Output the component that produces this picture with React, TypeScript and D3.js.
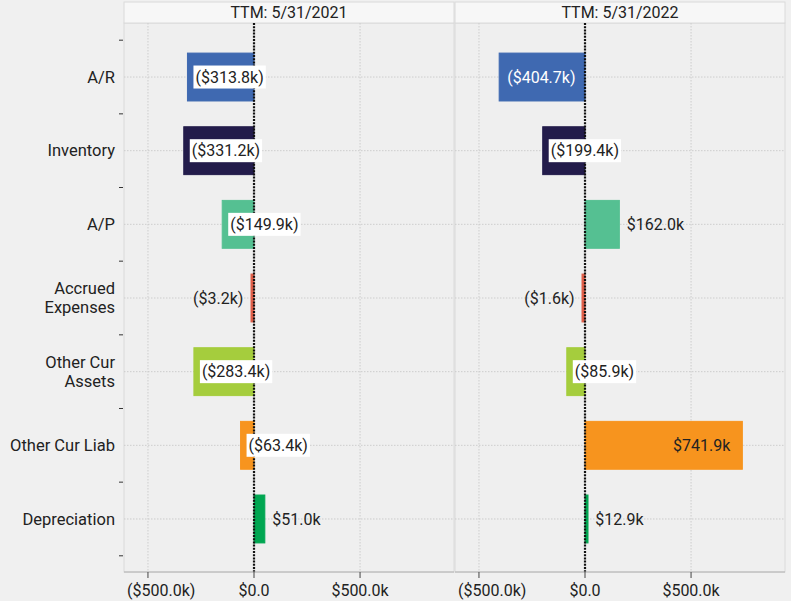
import React from "react";
import * as d3 from "d3";

// Working-capital change components, in $ thousands
const categories = [
  "A/R",
  "Inventory",
  "A/P",
  "Accrued Expenses",
  "Other Cur Assets",
  "Other Cur Liab",
  "Depreciation",
];
const periods = ["TTM: 5/31/2021", "TTM: 5/31/2022"];
const values2021 = [-313.8, -331.2, -149.9, -3.2, -283.4, -63.4, 51.0];
const values2022 = [-404.7, -199.4, 162.0, -1.6, -85.9, 741.9, 12.9];
const barColors = ["#3f69b1", "#231c4b", "#55c092", "#e0604a", "#a5cd3d", "#f7941e", "#00a651"];
const xTicks = [-500, 0, 500];

const W = 791;
const H = 601;
const FONT = "Roboto, 'Noto Sans', sans-serif";
const panelLefts = [124, 455];
const panelW = 330;
const stripTop = 2;
const plotTop = 23;
const plotBottom = 572;
const bandTop = 40.2;
const bandBottom = 555.8;
const minBarPx = 3; // keep tiny values visible beside the zero line

const fmtMoney = (v: number) => {
  if (v === 0) return "$0.0";
  const s = `$${Math.abs(v).toFixed(1)}k`;
  return v < 0 ? `(${s})` : s;
};

let measureCtx: CanvasRenderingContext2D | null = null;
const textWidth = (s: string, size = 16) => {
  if (!measureCtx) measureCtx = document.createElement("canvas").getContext("2d");
  if (!measureCtx) return s.length * size * 0.5;
  measureCtx.font = `${size}px Roboto`;
  return measureCtx.measureText(s).width;
};

const wrapLabel = (s: string, maxW: number) => {
  const words = s.split(" ");
  const lines: string[] = [];
  let cur = "";
  for (const w of words) {
    const trial = cur ? cur + " " + w : w;
    if (cur && textWidth(trial, 16.5) > maxW) {
      lines.push(cur);
      cur = w;
    } else cur = trial;
  }
  if (cur) lines.push(cur);
  return lines;
};

const isDark = (c: string) => {
  const rgb = d3.rgb(c);
  return 0.299 * rgb.r + 0.587 * rgb.g + 0.114 * rgb.b < 110;
};

export default function App() {
  const y = d3.scaleBand<string>().domain(categories).range([bandTop, bandBottom]).paddingInner(0.35).paddingOuter(0.175);
  const yCenter = (c: string) => (y(c) as number) + y.bandwidth() / 2;
  const step = (bandBottom - bandTop) / categories.length;
  const series = [values2021, values2022];

  return (
    <div style={{ position: "absolute", left: 0, top: 0 }}>
      <svg width={W} height={H} style={{ display: "block", fontFamily: FONT }}>
        <rect x={0} y={0} width={W} height={H} fill="#f0f0f0" />

        {/* category axis */}
        {d3.range(categories.length + 1).map((i) => (
          <line key={"yt" + i} x1={119} x2={123} y1={bandTop + i * step} y2={bandTop + i * step} stroke="#333" strokeWidth={1} />
        ))}
        {categories.map((c) => {
          const lines = wrapLabel(c, 112);
          const lh = 19;
          const y0 = yCenter(c) - ((lines.length - 1) * lh) / 2;
          return (
            <text key={"yl" + c} x={115} textAnchor="end" fontSize={16.5} fill="#222">
              {lines.map((l, i) => (
                <tspan key={i} x={115} y={y0 + i * lh} dy="0.35em">
                  {l}
                </tspan>
              ))}
            </text>
          );
        })}

        {periods.map((p, pi) => {
          const left = panelLefts[pi];
          const x = d3.scaleLinear().domain([-613, 943]).range([left, left + panelW]);
          const vals = series[pi];
          const x0 = x(0);
          return (
            <g key={p}>
              {/* panel and strip */}
              <rect x={left} y={plotTop} width={panelW} height={plotBottom - plotTop} fill="#efefef" stroke="#dadada" strokeWidth={1} />
              <rect x={left} y={stripTop} width={panelW} height={plotTop - stripTop} fill="#f7f7f7" stroke="#dadada" strokeWidth={1} />
              <text x={left + panelW / 2} y={(stripTop + plotTop) / 2} dy="0.36em" textAnchor="middle" fontSize={16} fill="#222">
                {p}
              </text>

              {/* grid */}
              {categories.map((c) => (
                <line key={"hg" + c} x1={left} x2={left + panelW} y1={yCenter(c)} y2={yCenter(c)} stroke="#cdcdcd" strokeWidth={1} strokeDasharray="1.5 1.5" />
              ))}
              {xTicks.map((t) => (
                <line key={"vg" + t} x1={x(t)} x2={x(t)} y1={plotTop} y2={plotBottom} stroke="#cdcdcd" strokeWidth={1} strokeDasharray="1.5 1.5" />
              ))}

              {/* bars */}
              {categories.map((c, i) => {
                const v = vals[i];
                const w = Math.max(Math.abs(x(v) - x0), minBarPx);
                const xa = v < 0 ? x0 - w : x0;
                return (
                  <rect key={"b" + c} x={xa} y={y(c)} width={w} height={y.bandwidth()} fill={barColors[i]} stroke={barColors[i]} strokeWidth={1} />
                );
              })}

              {/* zero line */}
              <line x1={x0} x2={x0} y1={plotTop} y2={plotBottom} stroke="#111" strokeWidth={2.2} strokeDasharray="2 1.2" />

              {/* value labels */}
              {categories.map((c, i) => {
                const v = vals[i];
                const label = fmtMoney(v);
                const tw = textWidth(label);
                const barPx = Math.abs(x(v) - x0);
                const cy = yCenter(c);
                if (barPx >= tw + 16) {
                  const fill = isDark(barColors[i]) ? "#ffffff" : "#222";
                  return v < 0 ? (
                    <text key={"l" + c} x={x(v) + 8} y={cy} dy="0.35em" fontSize={16} fill={fill}>
                      {label}
                    </text>
                  ) : (
                    <text key={"l" + c} x={x(v) - 12} y={cy} dy="0.35em" textAnchor="end" fontSize={16} fill={fill}>
                      {label}
                    </text>
                  );
                }
                if (v < 0 && barPx > 5) {
                  const bx = x(v) + 6;
                  return (
                    <g key={"l" + c}>
                      <rect x={bx} y={cy - 11.5} width={tw + 4} height={23} fill="#ffffff" />
                      <text x={bx + 2} y={cy} dy="0.35em" fontSize={16} fill="#222">
                        {label}
                      </text>
                    </g>
                  );
                }
                return v < 0 ? (
                  <text key={"l" + c} x={x(v) - 10} y={cy} dy="0.35em" textAnchor="end" fontSize={16} fill="#222">
                    {label}
                  </text>
                ) : (
                  <text key={"l" + c} x={x(v) + 7.5} y={cy} dy="0.35em" fontSize={16} fill="#222">
                    {label}
                  </text>
                );
              })}

              {/* value axis */}
              <line x1={left} x2={left + panelW} y1={plotBottom} y2={plotBottom} stroke="#b0b0b0" strokeWidth={1} />
              {xTicks.map((t) => {
                const label = fmtMoney(t);
                const tw = textWidth(label);
                const lx = Math.max(x(t) - tw / 2, left + 3);
                return (
                  <g key={"xt" + t}>
                    <line x1={x(t)} x2={x(t)} y1={plotBottom} y2={plotBottom + 6} stroke="#444" strokeWidth={1} />
                    <text x={lx} y={590} dy="0.35em" fontSize={16} fill="#222">
                      {label}
                    </text>
                  </g>
                );
              })}
            </g>
          );
        })}
      </svg>
    </div>
  );
}
